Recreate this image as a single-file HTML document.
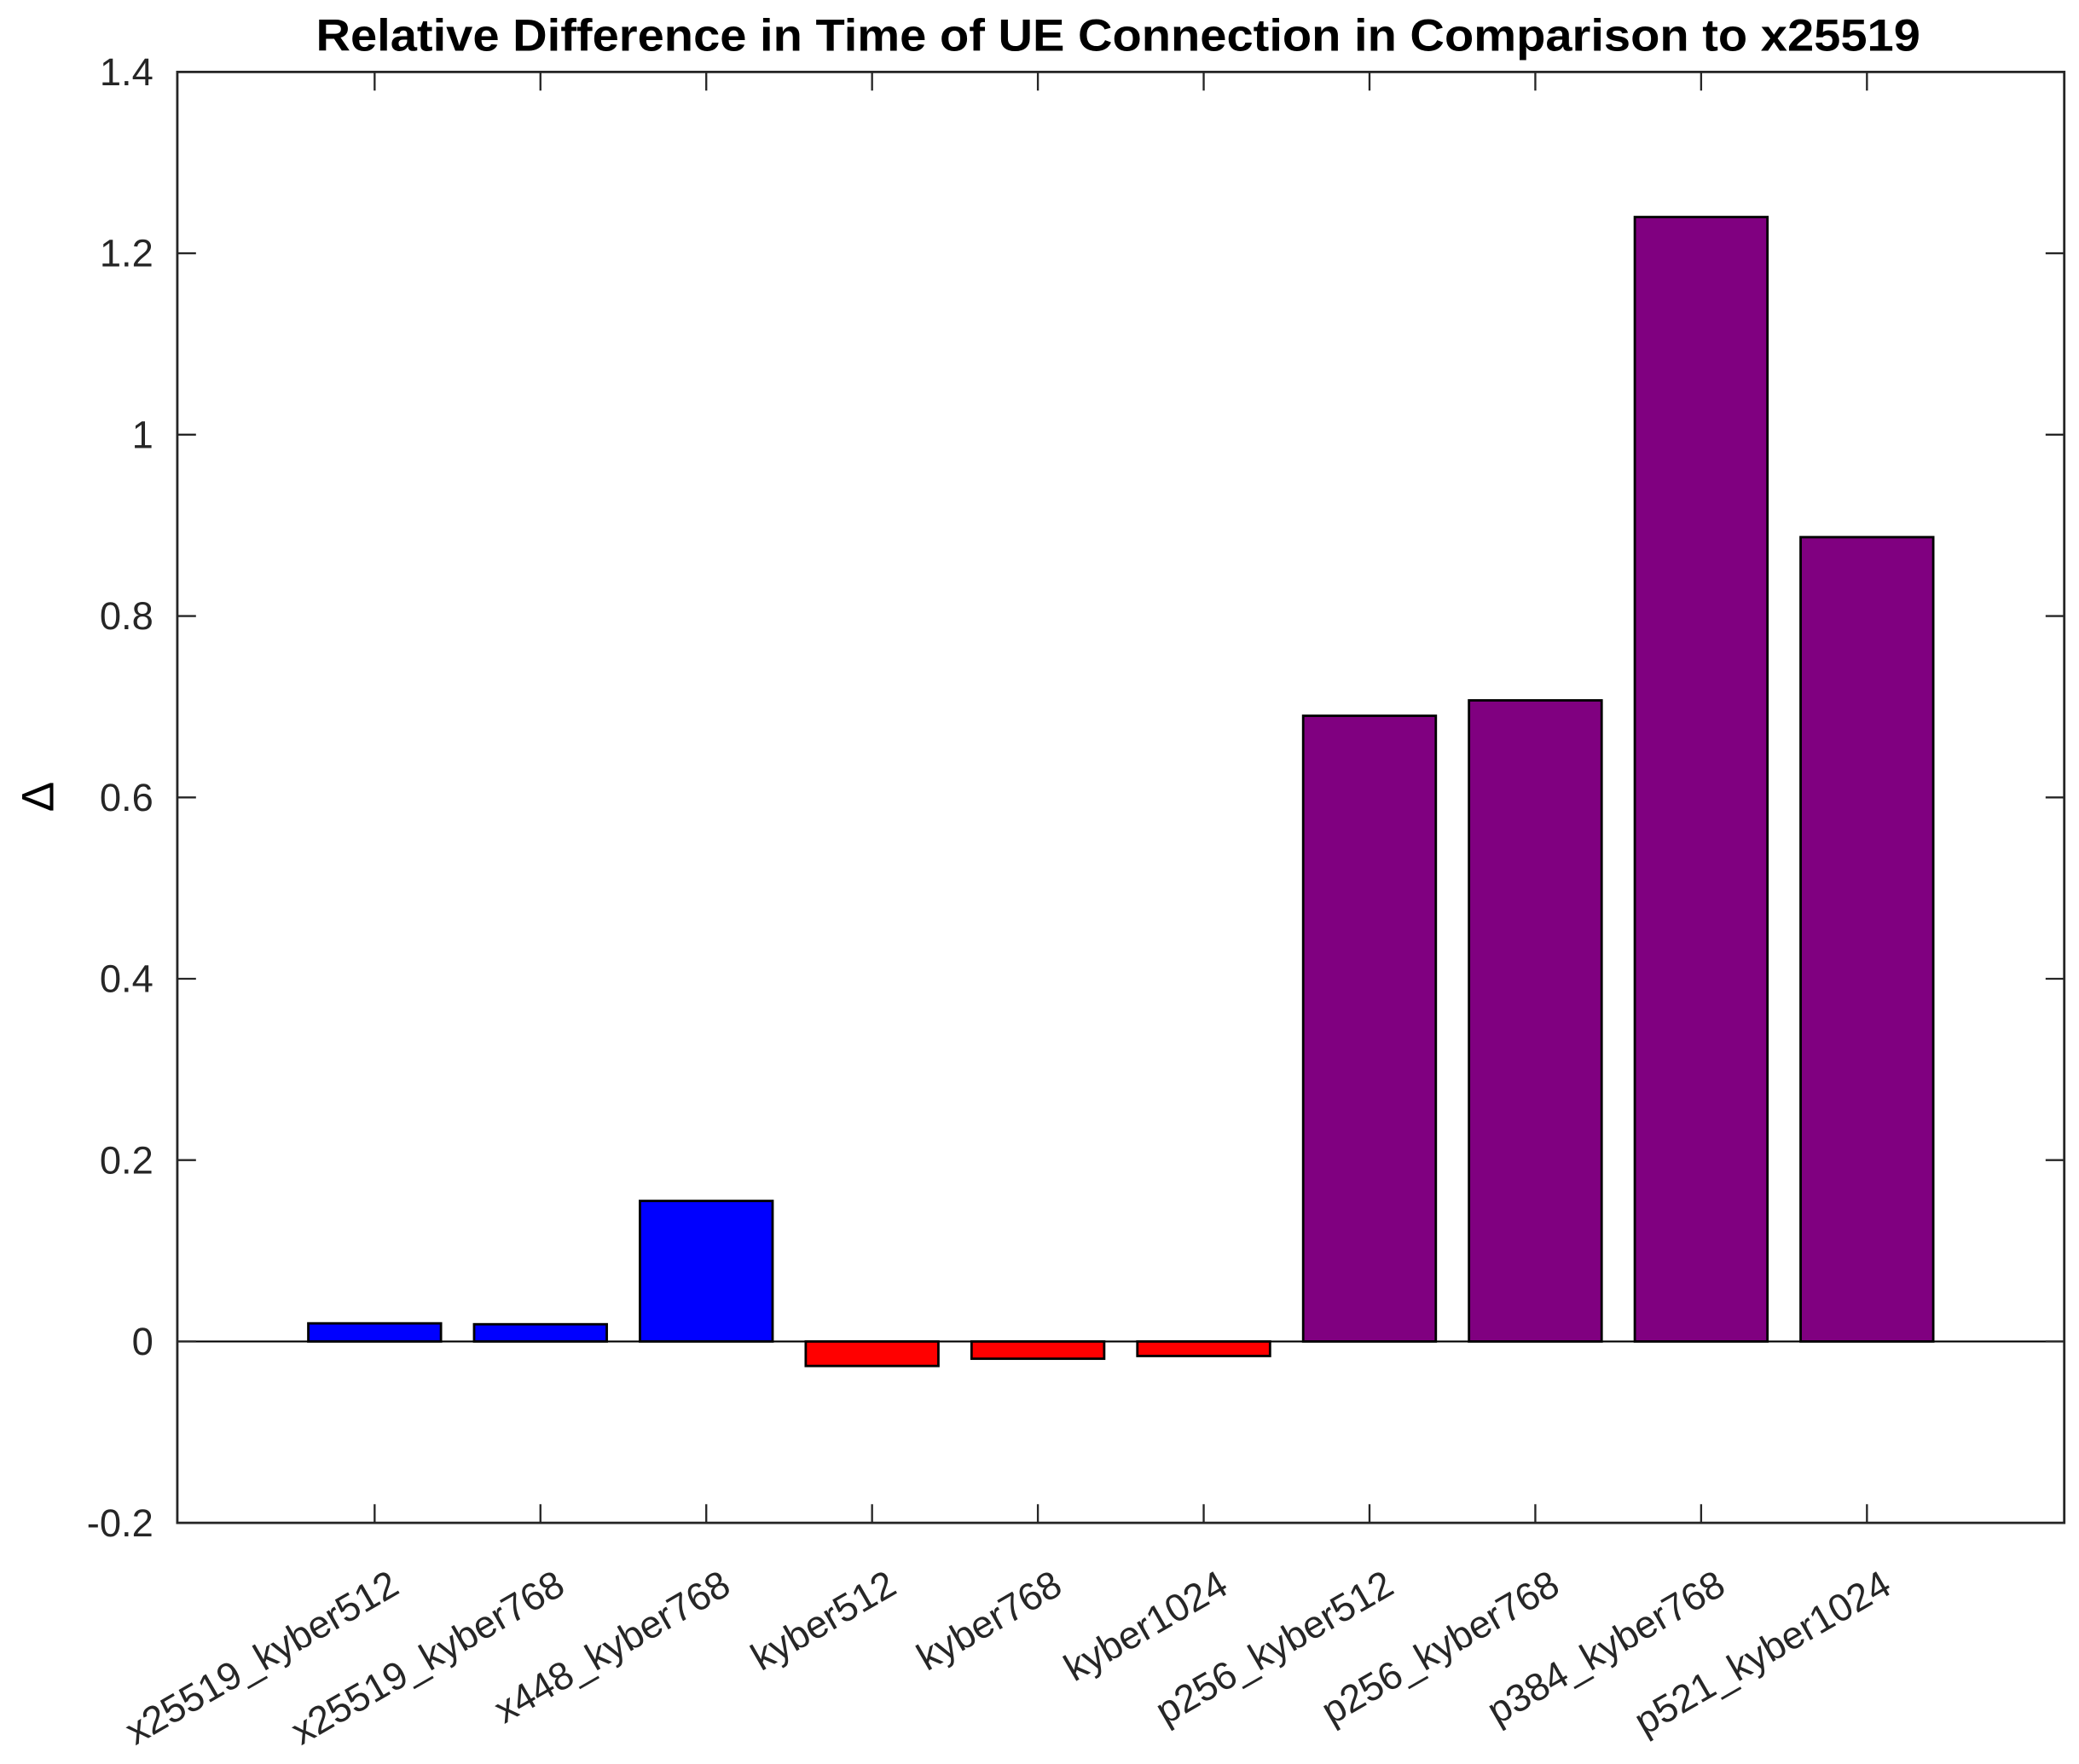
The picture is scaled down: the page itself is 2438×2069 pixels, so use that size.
<!DOCTYPE html>
<html><head><meta charset="utf-8"><style>html,body{margin:0;padding:0;background:#fff}svg{display:block}</style></head>
<body>
<svg width="2438" height="2069" viewBox="0 0 1560 1324" xmlns="http://www.w3.org/2000/svg" font-family="Liberation Sans, Arial, sans-serif">
<rect width="1560" height="1324" fill="#fff"/>
<text x="839" y="38" text-anchor="middle" font-size="34" font-weight="bold" textLength="1204" lengthAdjust="spacingAndGlyphs">Relative Difference in Time of UE Connection in Comparison to x25519</text>
<text transform="translate(40,598) rotate(-90)" text-anchor="middle" font-size="34">Δ</text>
<g id="plot"></g>
</svg>
<script>
const categories=["x25519_kyber512","x25519_kyber768","x448_kyber768","kyber512","kyber768","kyber1024","p256_kyber512","p256_kyber768","p384_kyber768","p521_kyber1024"];
const values=[0.02,0.019,0.155,-0.027,-0.019,-0.016,0.69,0.707,1.24,0.887];
const colors=["#0000ff","#0000ff","#0000ff","#ff0000","#ff0000","#ff0000","#800080","#800080","#800080","#800080"];
const yTicks=[-0.2,0,0.2,0.4,0.6,0.8,1,1.2,1.4];
const yTickLabels=["-0.2","0","0.2","0.4","0.6","0.8","1","1.2","1.4"];
const L=133,R=1549,T=54,B=1143;
const ns="http://www.w3.org/2000/svg";
const xMin=-1.19,xMax=categories.length-1+1.19;
const x=i=>L+(i-xMin)/(xMax-xMin)*(R-L);
const y=v=>B-(v+0.2)/1.6*(B-T);
const g=document.getElementById('plot');
function mk(t,a){const e=document.createElementNS(ns,t);for(const k in a)e.setAttribute(k,a[k]);g.appendChild(e);return e;}
const bw=(x(1)-x(0))*0.8;
values.forEach((v,i)=>{
 const r=mk('rect',{x:x(i)-bw/2,y:Math.min(y(v),y(0)),width:bw,height:Math.abs(y(v)-y(0)),fill:colors[i],stroke:'#000','stroke-width':1.8});
 
 
});
const zl=mk('line',{x1:L,x2:R,y1:y(0),y2:y(0),stroke:'#000','stroke-width':1.3});


yTicks.forEach((v,i)=>{
 mk('line',{x1:L,x2:L+14,y1:y(v),y2:y(v),stroke:'#262626','stroke-width':1.5});
 mk('line',{x1:R,x2:R-14,y1:y(v),y2:y(v),stroke:'#262626','stroke-width':1.5});
 const t=mk('text',{x:L-18,y:y(v)+10,'text-anchor':'end','font-size':29,fill:'#262626'});
 t.textContent=yTickLabels[i];
 
 
});
categories.forEach((c,i)=>{
 mk('line',{x1:x(i),x2:x(i),y1:B,y2:B-14,stroke:'#262626','stroke-width':1.5});
 mk('line',{x1:x(i),x2:x(i),y1:T,y2:T+14,stroke:'#262626','stroke-width':1.5});
 const t=mk('text',{transform:`translate(${x(i)+20},${B+52}) rotate(-30)`,'text-anchor':'end','font-size':29,fill:'#262626'});
 t.textContent=c;
 
 
});
const box=mk('rect',{x:L,y:T,width:R-L,height:B-T,fill:'none',stroke:'#262626','stroke-width':1.8});


</script>
</body></html>
